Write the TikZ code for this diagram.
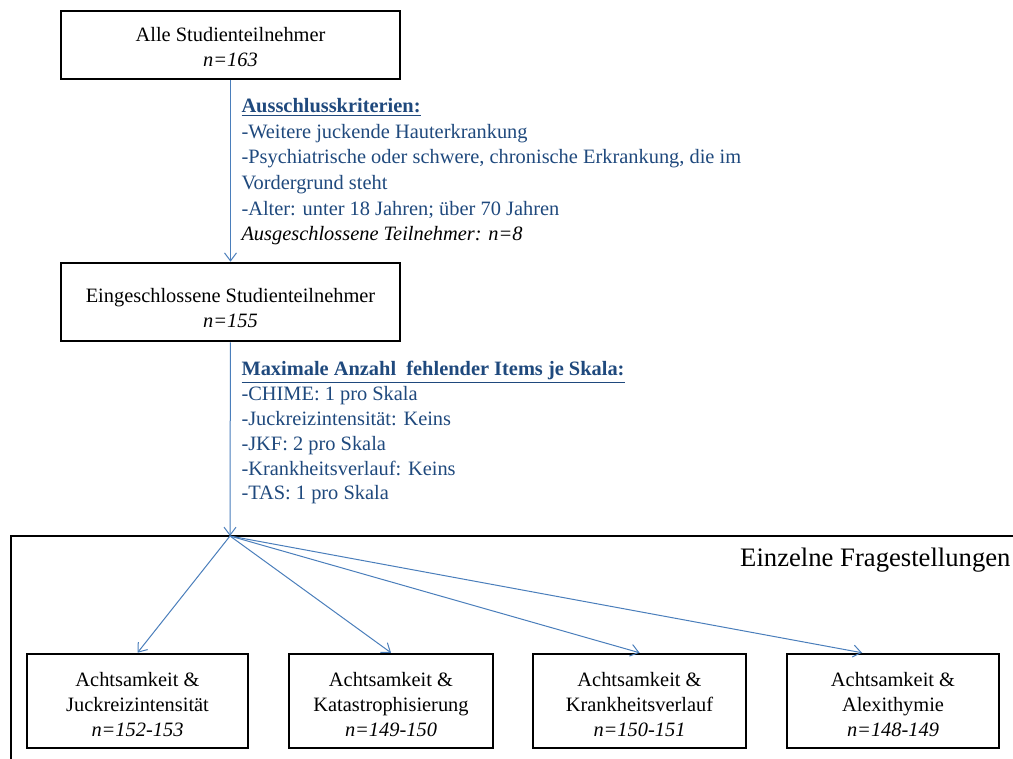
\documentclass[tikz,border=0pt]{standalone}
\usepackage{fontspec}
\setmainfont{Liberation Serif}
\usetikzlibrary{arrows.meta,calc}
\definecolor{lineblue}{RGB}{74,126,187}
\definecolor{textblue}{RGB}{31,73,125}
\newcommand{\toppad}[1]{\rule{0pt}{#1}}
\newcommand{\headline}[1]{\underline{\textbf{#1}}}
\tikzset{every picture/.style={line width=0.75pt}}
\tikzset{
  stepbox/.style={draw=black, line width=1.9pt, align=center, inner sep=0pt, font=\fontsize{15.3}{19}\selectfont},
  notetext/.style={anchor=north west, align=left, inner sep=0pt, text=textblue, font=\fontsize{15.3}{19.2}\selectfont},
  flow/.style={draw=lineblue, line width=0.75pt, -{Straight Barb[length=6pt,width=9pt]}},
}

\begin{document}
\begin{tikzpicture}[x=0.75pt,y=0.75pt,yscale=-1,xscale=1]
    \useasboundingbox (0,0) rectangle (1013,758);

    % Boxes
    \node [stepbox, minimum width=254.25pt, minimum height=51pt] (alle) at (230.5,45) {\toppad{14pt}Alle Studienteilnehmer\\\textit{n=163}};
    \node [stepbox, minimum width=254.25pt, minimum height=58.5pt] (ein) at (230.5,302) {\toppad{20pt}Eingeschlossene Studienteilnehmer\\\textit{n=155}};
    \node [stepbox, minimum width=165.75pt, minimum height=70.5pt] (q1) at (137.5,701) {\toppad{16pt}Achtsamkeit \&\\Juckreizintensität\\\textit{n=152-153}};
    \node [stepbox, minimum width=153pt, minimum height=70.5pt] (q2) at (391,701) {\toppad{16pt}Achtsamkeit \&\\Katastrophisierung\\\textit{n=149-150}};
    \node [stepbox, minimum width=159.75pt, minimum height=70.5pt] (q3) at (639.5,701) {\toppad{16pt}Achtsamkeit \&\\Krankheitsverlauf\\\textit{n=150-151}};
    \node [stepbox, minimum width=159pt, minimum height=70.5pt] (q4) at (893,701) {\toppad{16pt}Achtsamkeit \&\\Alexithymie\\\textit{n=148-149}};

    %Frame
    \draw [line width=1.9pt] (11,775) -- (11,536) -- (1030,536) ;
    \coordinate (fan) at (230,536);

    % Text Node
    \node [anchor=east, inner sep=0pt, font=\fontsize{20}{24}\selectfont] (frage) at (1011,560) {Einzelne Fragestellungen};
    % Text Node
    \node [notetext] (aus) at (241,98) {\headline{Ausschlusskriterien:}\\
      -Weitere juckende Hauterkrankung\\
      -Psychiatrische oder schwere, chronische Erkrankung, die im\\
      Vordergrund steht\\
      -Alter: unter 18 Jahren; über 70 Jahren\\
      \textcolor{black}{\textit{Ausgeschlossene Teilnehmer: n=8}}};
    % Text Node
    \node [notetext, font=\fontsize{15.3}{18.6}\selectfont] (fehl) at (241,361) {\headline{Maximale Anzahl\ \ fehlender Items je Skala:}\\
      -CHIME: 1 pro Skala\\
      -Juckreizintensität: Keins\\
      -JKF: 2 pro Skala\\
      -Krankheitsverlauf: Keins\\
      -TAS: 1 pro Skala};

    %Arrows
    \draw [flow] (alle) -- (ein) ;
    \draw [flow] (ein) -- (fan) ;
    \draw [flow] (fan) -- (q1.north) ;
    \draw [flow] (fan) -- (q2.north) ;
    \draw [flow] (fan) -- (q3.north) ;
    \draw [flow] (fan) -- ($(q4.north)+(-31,0)$) ;

\end{tikzpicture}
\end{document}
